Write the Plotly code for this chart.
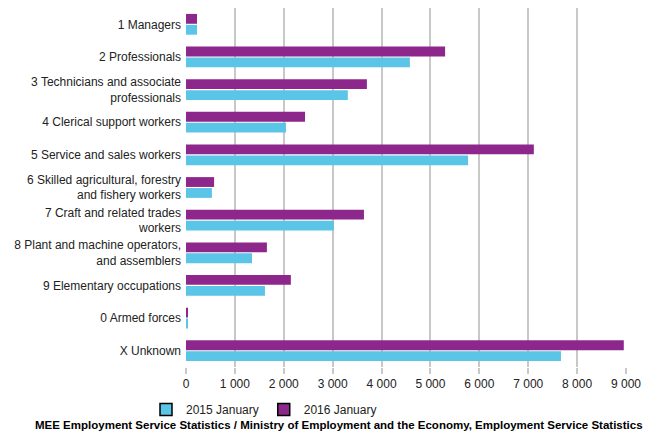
import plotly.graph_objects as go

categories = [
    "1 Managers",
    "2 Professionals",
    "3 Technicians and associate<br>professionals",
    "4 Clerical support workers",
    "5 Service and sales workers",
    "6 Skilled agricultural, forestry<br>and fishery workers",
    "7 Craft and related trades<br>workers",
    "8 Plant and machine operators,<br>and assemblers",
    "9 Elementary occupations",
    "0 Armed forces",
    "X Unknown",
]
values_2015 = [225, 4580, 3310, 2045, 5770, 530, 3025, 1350, 1615, 30, 7670]
values_2016 = [225, 5300, 3700, 2435, 7115, 575, 3640, 1655, 2145, 30, 8955]
series_names = ["2015 January", "2016 January"]
tick_values = [0, 1000, 2000, 3000, 4000, 5000, 6000, 7000, 8000, 9000]
footer = "MEE Employment Service Statistics / Ministry of Employment and the Economy, Employment Service Statistics"

blue = "#5BC5E8"
purple = "#8E278C"
font_family = "Liberation Sans, Arial, sans-serif"

W, H = 645, 432
L, R, T, B = 186, 19, 8, 65
plot_h = H - T - B
plot_w = W - L - R

fig = go.Figure()
fig.add_trace(go.Bar(y=categories, x=values_2015, orientation="h", name=series_names[0],
                     marker=dict(color=blue, line=dict(width=0)), showlegend=False))
fig.add_trace(go.Bar(y=categories, x=values_2016, orientation="h", name=series_names[1],
                     marker=dict(color=purple, line=dict(width=0)), showlegend=False))
# legend entries (with black outlined swatches, as in the reference)
for name, col in zip(series_names, [blue, purple]):
    fig.add_trace(go.Bar(y=[None], x=[None], orientation="h", name=name,
                         xaxis="x2", yaxis="y2",
                         marker=dict(color=col, line=dict(color="black", width=1.5))))

fig.update_layout(
    width=W, height=H,
    margin=dict(l=L, r=R, t=T, b=B),
    paper_bgcolor="white", plot_bgcolor="white",
    barmode="group", bargap=0.33, bargroupgap=0.1,
    separators=". ",
    font=dict(family=font_family, size=12, color="#222222"),
    xaxis=dict(range=[0, 9000], tickvals=tick_values, tickformat=",d",
               showgrid=True, gridcolor="#c8c8c8", gridwidth=2,
               zeroline=False, showline=False, automargin=False,
               ticks="outside", ticklen=6, tickcolor="#c8c8c8", tickwidth=2,
               tickfont=dict(size=12)),
    yaxis=dict(categoryorder="array", categoryarray=categories[::-1],
               showgrid=False, zeroline=False, showline=False, ticks="",
               automargin=False, ticklabelstandoff=4, tickfont=dict(size=12)),
    xaxis2=dict(overlaying="x", visible=False, range=[0, 1]),
    yaxis2=dict(overlaying="y", visible=False, range=[0, 1]),
    legend=dict(orientation="h", x=(146 - L) / plot_w, xanchor="left",
                y=-(395 - (H - B)) / plot_h, yanchor="top",
                font=dict(size=12), itemwidth=30, tracegroupgap=0,
                bgcolor="rgba(0,0,0,0)"),
    annotations=[dict(text="<b>" + footer + "</b>",
                      x=(339 - L) / plot_w, xref="paper", xanchor="center",
                      y=-(425 - (H - B)) / plot_h, yref="paper", yanchor="middle",
                      showarrow=False, font=dict(size=11.5, color="black"))],
)
fig.write_html("out.html", config={"displayModeBar": False},
               post_script="document.body.style.margin='0';")
